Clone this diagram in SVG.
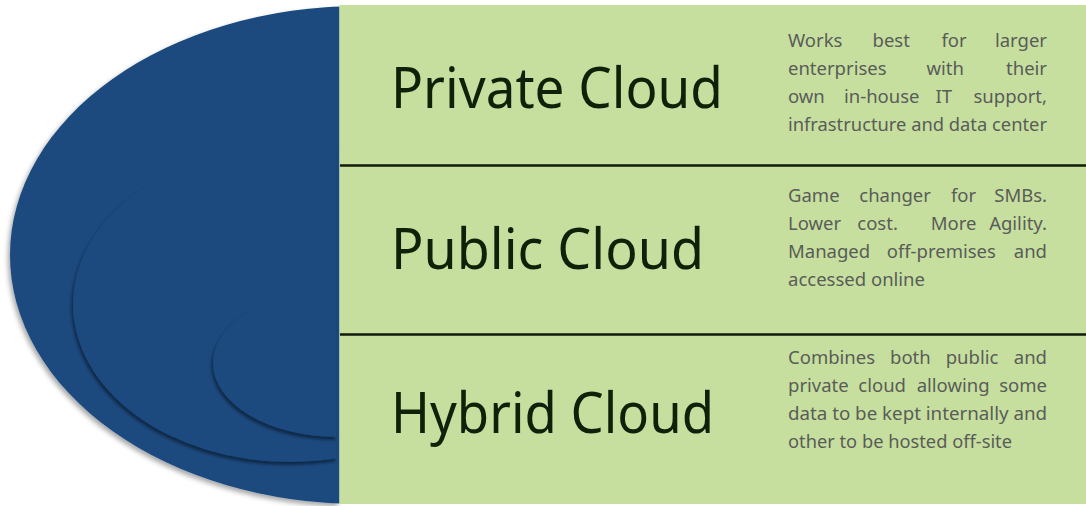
<svg xmlns="http://www.w3.org/2000/svg" width="1086" height="506" viewBox="0 0 1086 506">
<style>
.t{font-family:"Noto Sans","Open Sans","Liberation Sans",sans-serif;font-size:56px;fill:#0f2209}
.d{font-family:"Noto Sans","Open Sans","Liberation Sans",sans-serif;font-size:18.5px;fill:#5a5c58}
.e{text-anchor:end}
.sep{stroke:#0f1a0b;stroke-width:2.5}
.blue{fill:#1a4a7e}
</style>
<defs>
<clipPath id="c1"><rect x="0" y="0" width="339.5" height="506"/></clipPath>
<clipPath id="c2"><rect x="0" y="0" width="336.5" height="506"/></clipPath>
<filter id="so" x="-10%" y="-10%" width="120%" height="120%"><feDropShadow dx="-2" dy="3" stdDeviation="2.5" flood-color="#000" flood-opacity="0.35"/></filter>
<filter id="si" x="-10%" y="-10%" width="120%" height="120%"><feDropShadow dx="-1.5" dy="3" stdDeviation="1.6" flood-color="#000" flood-opacity="0.45"/></filter>
</defs>
<g id="shapes">
<g filter="url(#so)"><ellipse class="blue" cx="360" cy="255" rx="350" ry="249" clip-path="url(#c1)"/></g>
<g filter="url(#si)"><ellipse class="blue" cx="290" cy="304" rx="217" ry="158" clip-path="url(#c2)"/></g>
<g filter="url(#si)"><ellipse class="blue" cx="337" cy="363" rx="124" ry="74" clip-path="url(#c2)"/></g>
<rect x="339.5" y="5" width="746.5" height="499" fill="#c6df9f"/>
</g>
<g id="separators">
<line class="sep" x1="340" y1="165.5" x2="1086" y2="165.5"/>
<line class="sep" x1="340" y1="334.5" x2="1086" y2="334.5"/>
</g>
<g id="private">
<text class="t" x="391" y="108" textLength="332" lengthAdjust="spacingAndGlyphs">Private Cloud</text>
<text class="d" y="46.5"><tspan x="788">Works</tspan><tspan x="872.5">best</tspan><tspan x="941.5">for</tspan></text>
<text class="d e" x="1047" y="46.5">larger</text>
<text class="d" y="74.5"><tspan x="788">enterprises</tspan><tspan x="926.5">with</tspan></text>
<text class="d e" x="1047" y="74.5">their</text>
<text class="d" y="102.5"><tspan x="788">own</tspan><tspan x="844">in-house</tspan><tspan x="935.5">IT</tspan></text>
<text class="d e" x="1047" y="102.5">support,</text>
<text class="d" x="788" y="130.5" textLength="259" lengthAdjust="spacingAndGlyphs">infrastructure and data center</text>
</g>
<g id="public">
<text class="t" x="391" y="269" textLength="313" lengthAdjust="spacingAndGlyphs">Public Cloud</text>
<text class="d" y="201.7"><tspan x="788">Game</tspan><tspan x="859.3">changer</tspan><tspan x="951">for</tspan></text>
<text class="d e" x="1047" y="201.7">SMBs.</text>
<text class="d" y="229.8"><tspan x="788">Lower</tspan><tspan x="857.3">cost.</tspan><tspan x="930.7">More</tspan></text>
<text class="d e" x="1047" y="229.8">Agility.</text>
<text class="d" y="257.7"><tspan x="788">Managed</tspan><tspan x="886.7">off-premises</tspan></text>
<text class="d e" x="1047" y="257.7">and</text>
<text class="d" x="788" y="285.5" textLength="137" lengthAdjust="spacingAndGlyphs">accessed online</text>
</g>
<g id="hybrid">
<text class="t" x="391" y="433" textLength="323" lengthAdjust="spacingAndGlyphs">Hybrid Cloud</text>
<text class="d" y="364"><tspan x="788">Combines</tspan><tspan x="890">both</tspan><tspan x="945.7">public</tspan></text>
<text class="d e" x="1047" y="364">and</text>
<text class="d" y="392.2"><tspan x="788">private</tspan><tspan x="858.3">cloud</tspan><tspan x="916.7">allowing</tspan></text>
<text class="d e" x="1047" y="392.2">some</text>
<text class="d" x="788" y="420.2" textLength="259" lengthAdjust="spacingAndGlyphs">data to be kept internally and</text>
<text class="d" x="788" y="448.3" textLength="224" lengthAdjust="spacingAndGlyphs">other to be hosted off-site</text>
</g>
</svg>
